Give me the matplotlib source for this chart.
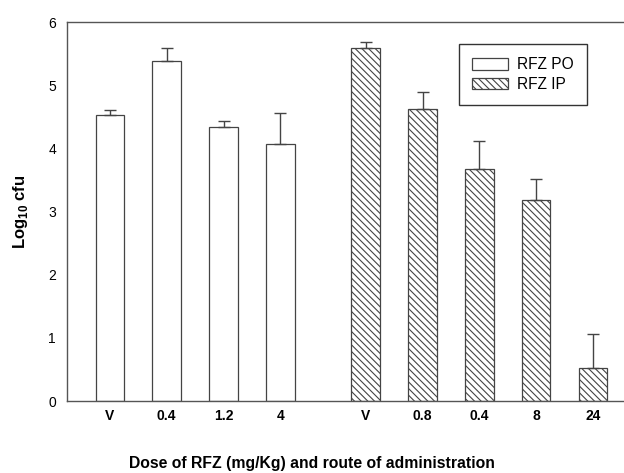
import numpy as np
import matplotlib.pyplot as plt
from matplotlib.patches import Patch

plt.rcParams['font.family'] = ['Liberation Sans', 'DejaVu Sans']
plt.rcParams['mathtext.fontset'] = 'custom'
plt.rcParams['mathtext.bf'] = 'Liberation Sans:bold'
plt.rcParams['hatch.linewidth'] = 0.8

# --- data ---
po_labels = ['V', '0.4', '1.2', '4']
po_means = [4.52, 5.39, 4.33, 4.07]
po_errs = [0.09, 0.20, 0.11, 0.49]

ip_labels = ['V', '0.8', '0.4', '8', '24']
ip_means = [5.59, 4.62, 3.67, 3.18, 0.53]
ip_errs = [0.10, 0.27, 0.45, 0.33, 0.53]

po_x = np.arange(len(po_labels))
ip_x = np.arange(len(ip_labels)) + len(po_labels) + 0.5

fig = plt.figure(figsize=(6.24, 4.73), dpi=100)
ax = fig.add_axes([67 / 624, 72 / 473, 557 / 624, 379 / 473])

edge = '#444444'
hatch = '\\\\\\\\\\'
err_kw = dict(ecolor=edge, elinewidth=1.0, capsize=4.3, capthick=1.0)

ax.bar(po_x, po_means, width=0.5, color='white', edgecolor=edge, linewidth=0.9,
       yerr=[np.zeros(len(po_errs)), po_errs], error_kw=err_kw, zorder=2)
ax.bar(ip_x, ip_means, width=0.5, color='white', edgecolor=edge, linewidth=0.9,
       hatch=hatch, yerr=[np.zeros(len(ip_errs)), ip_errs], error_kw=err_kw, zorder=2)

ax.set_xlim(-0.754, 9.044)
ax.set_ylim(0, 6)
ax.set_yticks(range(7))
ax.set_xticks(np.concatenate([po_x, ip_x]))
ax.set_xticklabels(po_labels + ip_labels, fontweight='bold', fontsize=10)
ax.tick_params(axis='both', length=0, labelsize=10)
ax.tick_params(axis='x', pad=6)
ax.tick_params(axis='y', pad=8)

for s in ['left', 'top', 'bottom']:
    ax.spines[s].set_color('#555555')
    ax.spines[s].set_linewidth(1.0)
ax.spines['right'].set_visible(False)

ax.set_xlabel('Dose of RFZ (mg/Kg) and route of administration',
              fontweight='bold', fontsize=11.3)
# label sits centred on the figure, not the axes
ax.xaxis.set_label_coords(0.44, -0.145)
ax.set_ylabel(r'Log$_{\mathbf{10}}$ cfu', fontweight='bold', fontsize=12, labelpad=13)

handles = [Patch(facecolor='white', edgecolor=edge, linewidth=0.9, label='RFZ PO'),
           Patch(facecolor='white', edgecolor=edge, linewidth=0.9, hatch=hatch, label='RFZ IP')]
leg = ax.legend(handles=handles, loc='upper left', bbox_to_anchor=(0.704, 0.942),
                fontsize=11.2, frameon=True, fancybox=False, edgecolor='black',
                handlelength=2.3, handleheight=0.76, handletextpad=0.55,
                borderpad=0.85, labelspacing=0.3, borderaxespad=0)
leg.get_frame().set_linewidth(1.0)

fig.savefig('out.png', dpi=100)
